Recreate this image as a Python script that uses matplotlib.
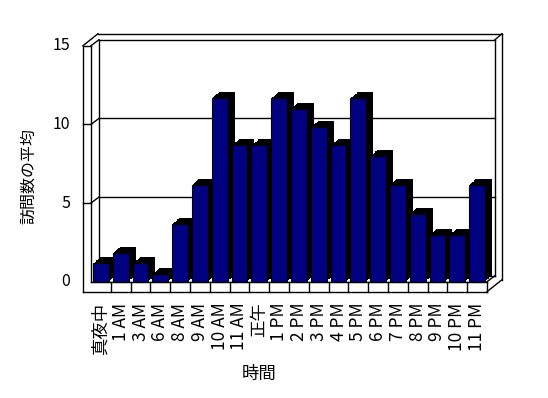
import matplotlib
matplotlib.use("Agg")
import matplotlib.pyplot as plt
import matplotlib.patheffects as pe
from matplotlib.transforms import offset_copy

plt.rcParams['font.family'] = ['Noto Sans CJK JP', 'DejaVu Sans']

hours = ['真夜中', '1 AM', '3 AM', '6 AM', '8 AM', '9 AM', '10 AM', '11 AM', '正午',
         '1 PM', '2 PM', '3 PM', '4 PM', '5 PM', '6 PM', '7 PM', '8 PM', '9 PM',
         '10 PM', '11 PM']
visits = [1.17, 1.83, 1.17, 0.5, 3.67, 6.17, 11.67, 8.67, 8.67, 11.67,
          11.0, 9.83, 8.67, 11.67, 8.0, 6.17, 4.33, 3.0, 3.0, 6.17]
y_ticks = [0, 5, 10, 15]

W, H = 548, 398
fig = plt.figure(figsize=(W / 100, H / 100), dpi=100)
ax = fig.add_axes([91 / W, (H - 281.7) / H, (487 - 91) / W, (281.7 - 45.7) / H])
n = len(hours)
x0, x1 = -0.5, n - 0.5
ymax = y_ticks[-1]
ax.set_xlim(x0, x1)
ax.set_ylim(0, ymax)
ax.axis('off')

# 3d box sizes in pixels
DX, DY = 8, 6      # floor depth
TX, TY = 7, 6      # back wall thickness
SW = 8             # side wall thickness
FL = 10            # floor thickness
BX, BY = 7, 6      # bar depth


def P(x, y, dx=0, dy=0):
    X, Y = ax.transData.transform((x, y))
    return ax.transAxes.inverted().transform((X + dx, Y + dy))


def seg(a, b, z=1):
    ax.plot([a[0], b[0]], [a[1], b[1]], color='black', lw=1,
            transform=ax.transAxes, clip_on=False, zorder=z,
            solid_capstyle='projecting')


# back wall and side wall
seg(P(x0, ymax, DX, DY), P(x0, 0, DX, DY))
seg(P(x0, ymax, DX, DY), P(x1, ymax, DX, DY))
seg(P(x1, ymax, DX, DY), P(x1, 0, DX, DY))
seg(P(x0, 0, DX, DY), P(x1, 0, DX, DY))
seg(P(x0, ymax, -SW + DX + TX, DY + TY), P(x1, ymax, DX + TX, DY + TY))
seg(P(x1, ymax, DX, DY), P(x1, ymax, DX + TX, DY + TY))
seg(P(x1, ymax, DX + TX, DY + TY), P(x1, 0, DX + TX, DY + TY - FL))
for v in y_ticks[1:-1]:
    seg(P(x0, v, DX, DY), P(x1, v, DX, DY))
    seg(P(x0, v), P(x0, v, DX, DY))
    seg(P(x0, v, -SW, 0), P(x0, v), z=3)

# left slab front
seg(P(x0, ymax, -SW, 0), P(x0, 0, -SW, -FL), z=3)
seg(P(x0, ymax), P(x0, 0), z=3)
seg(P(x0, ymax, -SW, 0), P(x0, ymax), z=3)
seg(P(x0, ymax, -SW, 0), P(x0, ymax, -SW + DX + TX, DY + TY), z=3)
seg(P(x0, ymax), P(x0, ymax, DX, DY), z=3)

# floor
seg(P(x0, 0), P(x1, 0), z=3)
seg(P(x0, 0, -SW, -FL), P(x1, 0, 0, -FL), z=3)
seg(P(x1, 0), P(x1, 0, 0, -FL), z=3)
seg(P(x1, 0), P(x1, 0, DX, DY), z=3)
seg(P(x1, 0, 0, -FL), P(x1, 0, DX + TX, DY + TY - FL), z=3)
for k in range(n - 1):
    seg(P(k + 0.5, 0), P(k + 0.5, 0, 0, -FL), z=3)

# bars with a black extruded top and side
steps = 8
shadow = [pe.SimplePatchShadow(offset=(BX * i / steps * 0.72, BY * i / steps * 0.72),
                               shadow_rgbFace='black', alpha=1.0)
          for i in range(1, steps + 1)]
ax.bar(range(n), visits, width=0.8, color='#000080', edgecolor='black', lw=0.8,
       zorder=2, clip_on=False, path_effects=shadow + [pe.Normal()])

# tick labels
for v in y_ticks:
    ax.text(x0, v, str(v), ha='right', va='center', fontsize=11.5,
            transform=offset_copy(ax.transData, fig=fig, x=-21, y=0, units='dots'))
for i, lab in enumerate(hours):
    ax.text(i, 0, lab, rotation=90, ha='center', va='top', fontsize=12.5,
            transform=offset_copy(ax.transData, fig=fig, x=0, y=-21, units='dots'))

fig.text(259 / W, 1 - 374 / H, '時間', ha='center', va='center', fontsize=12.5)
fig.text(29 / W, 1 - 176 / H, '訪問数の平均', rotation=90, ha='center', va='center',
         fontsize=11.5)

fig.savefig('out.png', dpi=100, facecolor='white')
